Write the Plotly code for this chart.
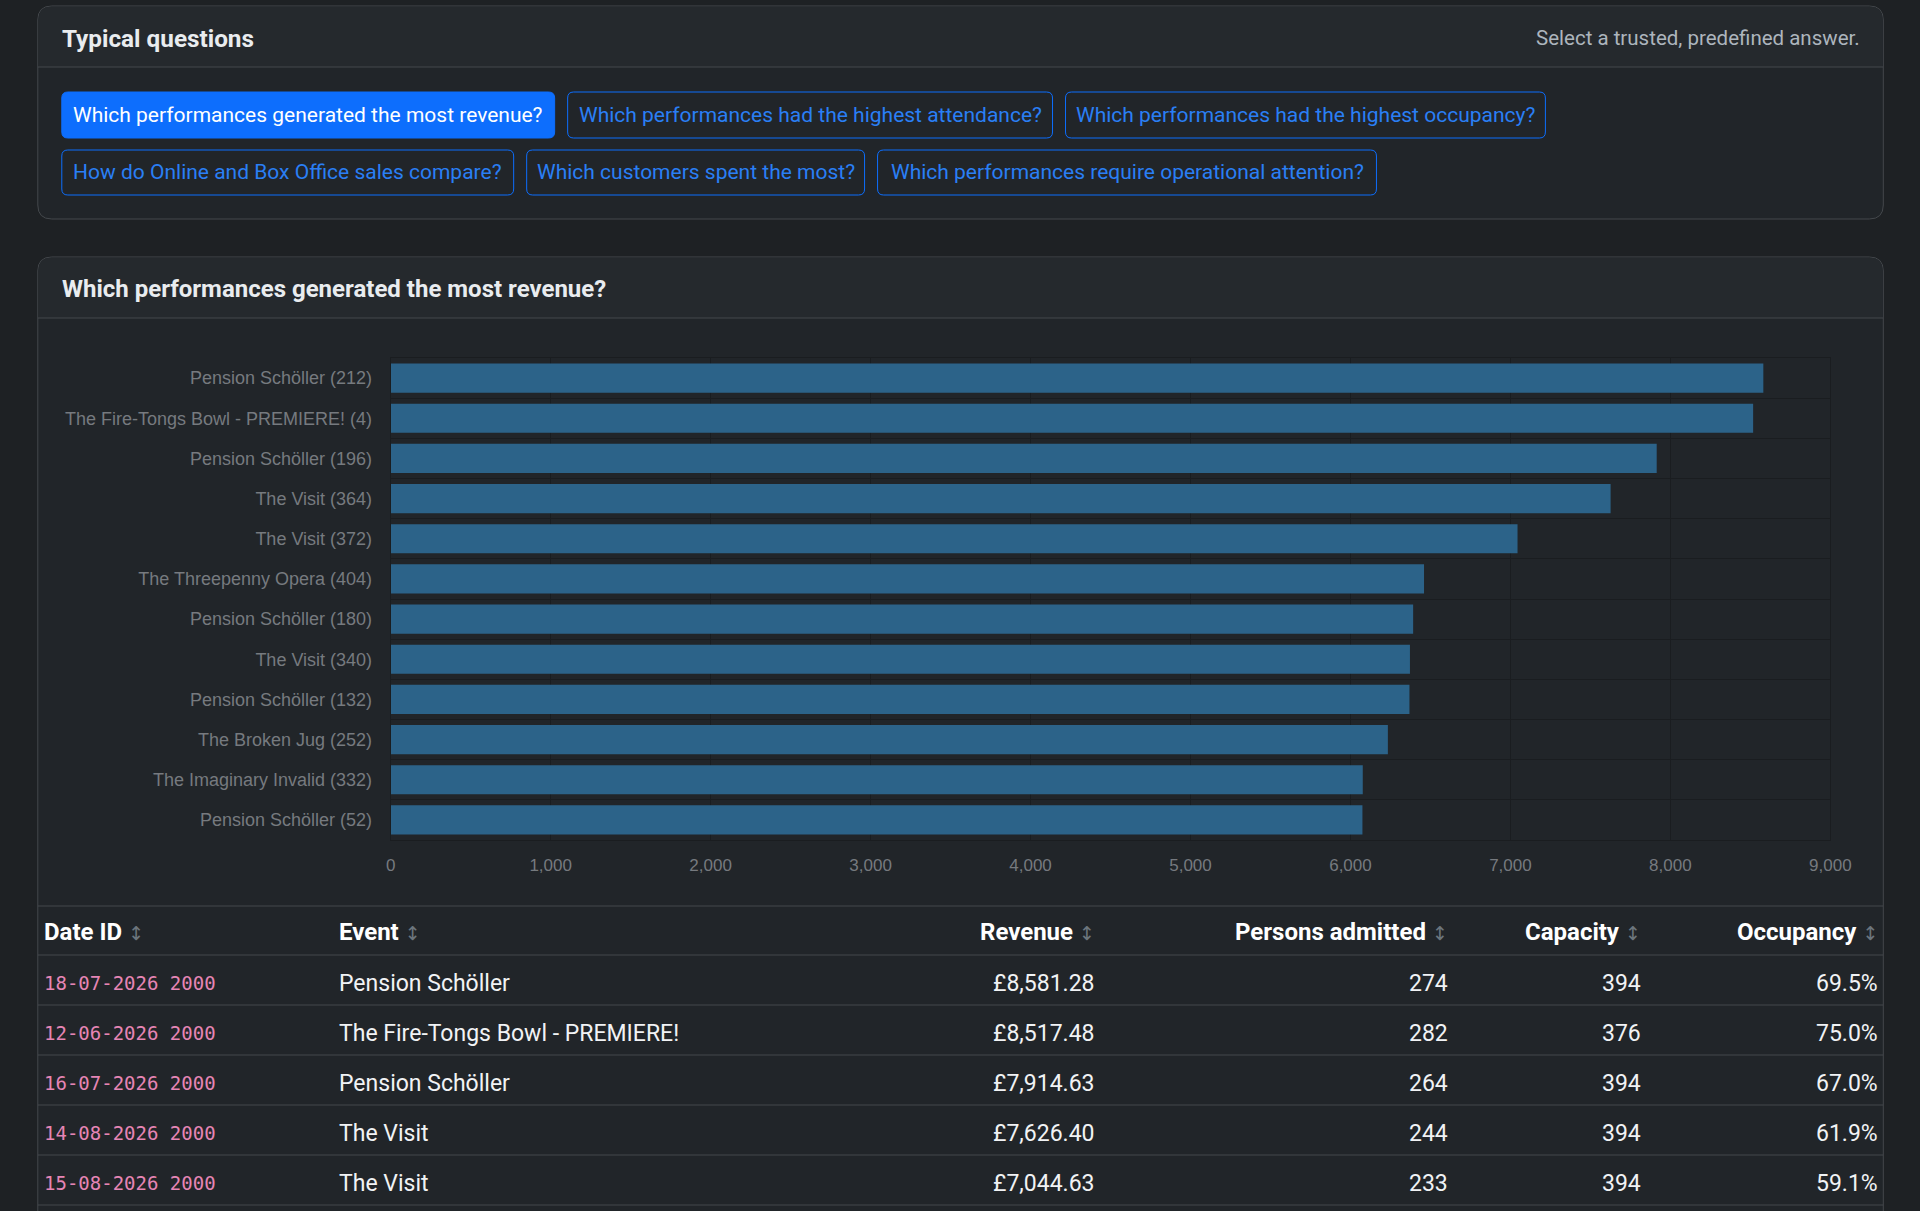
import plotly.graph_objects as go

W, H = 1920, 1211
# the photographed page comes out slightly narrower than the layout width,
# so horizontal positions are mapped onto the width that is actually shown
X_OFF, X_SPAN = 4.2, 1894.5

# data
questions = [
    "Which performances generated the most revenue?",
    "Which performances had the highest attendance?",
    "Which performances had the highest occupancy?",
    "How do Online and Box Office sales compare?",
    "Which customers spent the most?",
    "Which performances require operational attention?",
]
performances = [
    "Pension Schöller (212)",
    "The Fire-Tongs Bowl - PREMIERE! (4)",
    "Pension Schöller (196)",
    "The Visit (364)",
    "The Visit (372)",
    "The Threepenny Opera (404)",
    "Pension Schöller (180)",
    "The Visit (340)",
    "Pension Schöller (132)",
    "The Broken Jug (252)",
    "The Imaginary Invalid (332)",
    "Pension Schöller (52)",
]
revenue = [8581.28, 8517.48, 7914.63, 7626.40, 7044.63, 6460, 6392, 6372, 6369, 6234, 6077, 6075]

table_cols = ["Date ID", "Event", "Revenue", "Persons admitted", "Capacity", "Occupancy"]
date_ids = ["18-07-2026 2000", "12-06-2026 2000", "16-07-2026 2000", "14-08-2026 2000", "15-08-2026 2000"]
events = ["Pension Schöller", "The Fire-Tongs Bowl - PREMIERE!", "Pension Schöller", "The Visit", "The Visit"]
admitted = [274, 282, 264, 244, 233]
capacity = [394, 376, 394, 394, 394]
occupancy = [69.5, 75.0, 67.0, 61.9, 59.1]

# colours
PAGE = "#1e2124"
CARD = "#212529"
CARD_HEAD = "#25292d"
BORDER = "#44484c"
BLUE = "#0d6efd"
GRID = "#1a1d20"
UI_FONT = "Roboto"
CHART_FONT = "Liberation Sans"


def px(x):
    return (x - X_OFF) / X_SPAN


def py(y):
    return 1 - y / H


def rounded(x0, y0, x1, y1, r, top_only=False):
    rb = 0 if top_only else r
    p = f"M {px(x0 + r)},{py(y0)} L {px(x1 - r)},{py(y0)} "
    p += f"Q {px(x1)},{py(y0)} {px(x1)},{py(y0 + r)} "
    p += f"L {px(x1)},{py(y1 - rb)} "
    if rb:
        p += f"Q {px(x1)},{py(y1)} {px(x1 - rb)},{py(y1)} "
    p += f"L {px(x0 + rb)},{py(y1)} "
    if rb:
        p += f"Q {px(x0)},{py(y1)} {px(x0)},{py(y1 - rb)} "
    p += f"L {px(x0)},{py(y0 + r)} Q {px(x0)},{py(y0)} {px(x0 + r)},{py(y0)} Z"
    return p


shapes = []
annotations = []


def text(x, y, s, size, color, anchor="left", family=UI_FONT, weight="normal"):
    # annotations carry a little padding, nudge them so the glyphs sit on x
    if anchor == "left":
        x -= 2
    elif anchor == "right":
        x += 3
    annotations.append(dict(
        x=px(x), y=py(y), xref="paper", yref="paper", text=s, showarrow=False,
        xanchor=anchor, yanchor="middle",
        font=dict(family=family, size=size, color=color, weight=weight),
    ))


def hline(x0, x1, y, color=BORDER, width=1):
    shapes.append(dict(type="line", xref="paper", yref="paper", x0=px(x0), x1=px(x1),
                       y0=py(y), y1=py(y), line=dict(color=color, width=width), layer="below"))


# card 1: typical questions
shapes.append(dict(type="path", xref="paper", yref="paper", path=rounded(37, 6, 1883, 219, 14),
                   fillcolor=CARD, line=dict(color=BORDER, width=1), layer="below"))
shapes.append(dict(type="path", xref="paper", yref="paper", path=rounded(37.5, 6.5, 1882.5, 67, 14, True),
                   fillcolor=CARD_HEAD, line=dict(width=0), layer="below"))
hline(37, 1883, 67)
text(61, 38, "Typical questions", 24.3, "#e9ecef", weight="bold")
text(1859, 38, "Select a trusted, predefined answer.", 20.5, "#adb5bd", anchor="right")

buttons = [(61, 554, 92, 138), (567, 1052, 92, 138), (1065, 1545, 92, 138),
           (61, 513, 150, 195), (526, 864, 150, 195), (877, 1376, 150, 195)]
for i, (q, (x0, x1, y0, y1)) in enumerate(zip(questions, buttons)):
    active = i == 0
    shapes.append(dict(type="path", xref="paper", yref="paper", path=rounded(x0, y0, x1, y1, 6),
                       fillcolor=BLUE if active else "rgba(0,0,0,0)",
                       line=dict(color=BLUE, width=1), layer="below"))
    text((x0 + x1) / 2, (y0 + y1) / 2, q, 21, "#ffffff" if active else "#2a7ff5", anchor="center")

# card 2: answer
shapes.append(dict(type="path", xref="paper", yref="paper", path=rounded(37, 257, 1883, 1260, 14),
                   fillcolor=CARD, line=dict(color=BORDER, width=1), layer="below"))
shapes.append(dict(type="path", xref="paper", yref="paper", path=rounded(37.5, 257.5, 1882.5, 318, 14, True),
                   fillcolor=CARD_HEAD, line=dict(width=0), layer="below"))
hline(37, 1883, 318)
text(61, 289, questions[0], 24, "#e9ecef", weight="bold")

# table
col_x = [43, 338, 1093, 1447, 1640, 1877]
col_anchor = ["left", "left", "right", "right", "right", "right"]
hline(37, 1883, 906)
hline(37, 1883, 955)
icon = "<span style='color:#6c757d;font-size:19px;font-weight:normal;font-family:DejaVu Sans'> ↕</span>"
for name, x, a in zip(table_cols, col_x, col_anchor):
    text(x, 932, f"{name}{icon}", 24, "#ffffff", anchor=a, weight="bold")

for i in range(len(date_ids)):
    yc = 983 + 50 * i
    cells = [date_ids[i], events[i], f"£{revenue[i]:,.2f}", str(admitted[i]),
             str(capacity[i]), f"{occupancy[i]:.1f}%"]
    for j, (c, x, a) in enumerate(zip(cells, col_x, col_anchor)):
        if j == 0:
            text(x, yc, c, 19, "#e685b5", anchor=a, family="DejaVu Sans Mono")
        else:
            text(x, yc, c, 23, "#f1f3f5", anchor=a)
    hline(37, 1883, 1005 + 50 * i)

fig = go.Figure(go.Bar(
    x=revenue, y=performances, orientation="h",
    marker=dict(color="#2c6389", line=dict(width=0)),
    hoverinfo="skip",
))

fig.update_layout(
    width=W, height=H, margin=dict(l=0, r=0, t=0, b=0), autosize=False,
    paper_bgcolor=PAGE, plot_bgcolor="rgba(0,0,0,0)",
    showlegend=False, bargap=0.275,
    shapes=shapes, annotations=annotations,
    xaxis=dict(domain=[px(390), px(1830)], range=[0, 9000], dtick=1000, tickformat=",",
               showgrid=True, gridcolor=GRID, zeroline=False,
               showline=True, mirror=True, linecolor=GRID,
               tickfont=dict(family=CHART_FONT, size=17, color="#767a7f"),
               ticklabelstandoff=10, fixedrange=True),
    yaxis=dict(domain=[py(840), py(358)], autorange="reversed", type="category",
               tickson="boundaries", showgrid=True, gridcolor=GRID,
               showline=True, mirror=True, linecolor=GRID, ticks="",
               tickfont=dict(family=CHART_FONT, size=18, color="#767a7f"),
               ticklabelstandoff=14, fixedrange=True),
)

fig.write_html("out.html", config={"displayModeBar": False, "responsive": False},
               post_script="document.body.style.margin='0';document.body.style.background='#1e2124';"
                           "document.body.style.overflow='hidden';"
                           "document.documentElement.style.overflow='hidden';")
